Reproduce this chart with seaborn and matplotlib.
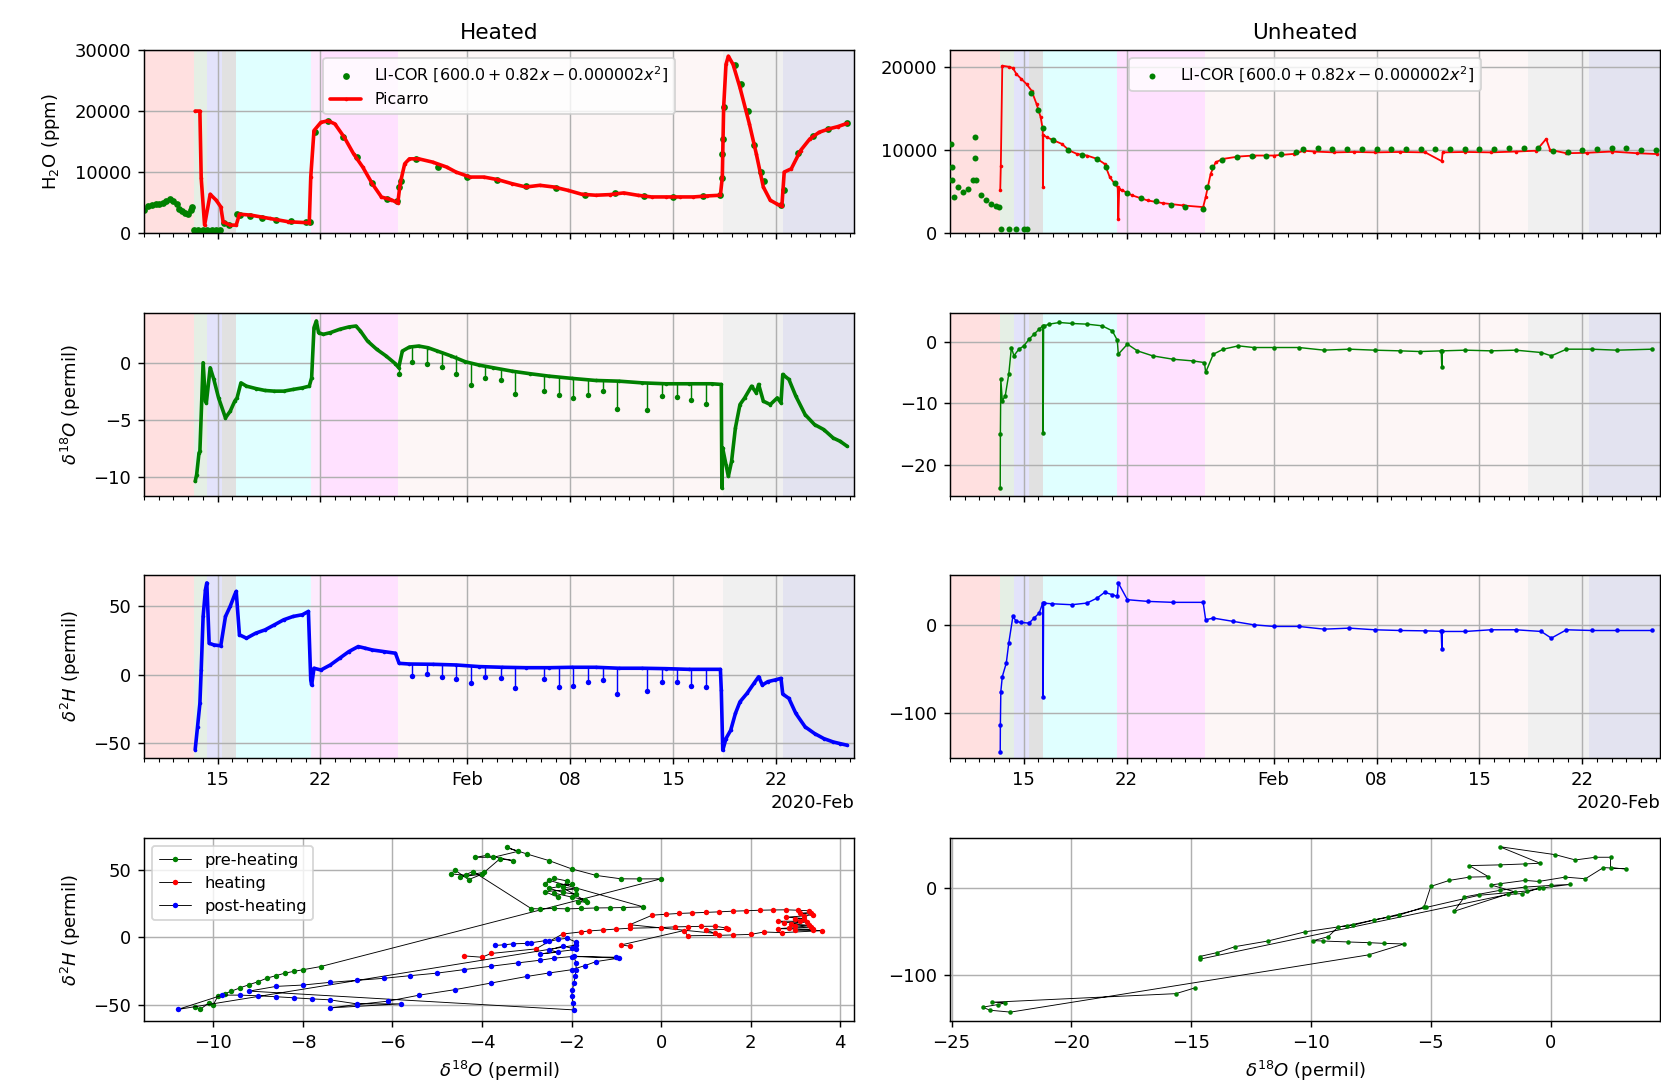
import numpy as np
import pandas as pd
import matplotlib
matplotlib.use("Agg")
import matplotlib.pyplot as plt
import matplotlib.dates as mdates
import seaborn as sns

T0 = pd.Timestamp("2020-01-10")
T_END = pd.Timestamp("2020-02-27 07:00")

# shaded periods, in days after T0
span_edges_heated = [0, 3.40, 4.26, 5.28, 6.26, 11.38, 12.0, 17.30, 39.41, 43.45, 48.4]
span_colors_heated = ["#ffe0e0", "#e5efe5", "#e3e3fb", "#e1e1e1", "#e0ffff",
                      "#fdebfd", "#ffe1ff", "#fdf6f6", "#f0f0f0", "#e3e3f0"]
span_edges_unheated = [0, 3.41, 4.34, 5.37, 6.33, 11.37, 17.31, 39.28, 43.47, 48.4]
span_colors_unheated = ["#ffe0e0", "#e5efe5", "#e3e3fb", "#e1e1e1", "#e0ffff",
                        "#ffe1ff", "#fdf6f6", "#f0f0f0", "#e3e3f0"]

# ---- heated: H2O (ppm)
h2o_h_licor_day = [0.0, 0.25, 0.51, 0.79, 1.01, 1.27, 1.52, 1.74, 1.96, 2.22, 2.41, 2.60, 2.79, 3.01, 3.20, 3.29,
                   3.42, 3.70, 4.00, 4.30, 4.60, 4.90, 5.20,
                   5.45, 5.80, 6.30, 6.50, 7.20, 8.00, 9.00, 10.00, 11.00, 11.30,
                   11.60, 12.50, 13.50, 14.50, 15.50, 16.50, 17.20, 17.36, 17.45, 18.50, 20.00, 22.00, 24.00,
                   26.00, 28.00, 30.00, 32.00, 34.00, 36.00, 38.00, 39.20,
                   39.31, 39.34, 39.37, 39.42, 40.20, 40.60, 41.05, 41.50, 41.95, 42.15, 43.30, 43.50, 44.50,
                   45.50, 46.50, 47.80]
h2o_h_licor_ppm = [3750, 4400, 4600, 4800, 4700, 5000, 5300, 5600, 5300, 4800, 4000, 3600, 3300, 3200, 3700, 4300,
                   480, 520, 480, 520, 480, 520, 480,
                   1600, 1300, 3050, 2950, 2800, 2450, 2150, 1900, 1750, 1750,
                   16600, 18300, 15800, 12500, 8200, 5600, 5300, 7500, 8600, 12100, 10900, 9200, 8700,
                   7700, 7400, 6300, 6500, 6000, 5900, 6100, 6200,
                   9000, 13000, 15500, 20600, 27600, 24500, 20000, 14500, 10000, 8600, 4600, 7000, 13200,
                   15900, 17100, 18000]
h2o_h_pic_day = [3.48, 3.80, 3.89, 4.12, 4.50, 4.91, 5.22, 5.38, 5.86, 6.27,
                 6.49, 7.28, 8.55, 9.82, 11.24, 11.34, 11.56, 12.03, 12.51, 12.98,
                 13.62, 14.25, 14.88, 15.52, 16.15, 16.78, 17.26, 17.42, 17.73, 18.05,
                 18.68, 19.63, 20.58, 21.22, 22.17, 23.12, 24.07, 25.02, 25.97, 26.92,
                 27.87, 28.82, 29.77, 30.72, 31.67, 32.62, 33.57, 34.52, 35.47, 36.42,
                 37.37, 38.32, 39.20, 39.33, 39.42, 39.58, 39.74, 40.06, 40.53, 41.17,
                 41.64, 42.12, 42.59, 43.07, 43.38, 43.54, 44.02, 44.65, 45.28, 45.91,
                 46.55, 47.18, 47.82]
h2o_h_pic_ppm = [20000, 20000, 9000, 1300, 6360, 5380, 4300, 1850, 1300, 1300,
                 3100, 2930, 2390, 1850, 1680, 9180, 16800, 18150, 18400, 17900,
                 15700, 13000, 10800, 8100, 5900, 5490, 4950, 8100, 11360, 12170,
                 12170, 11630, 10820, 10000, 9180, 9180, 8750, 8100, 7550, 7830,
                 7550, 7010, 6360, 6200, 6300, 6580, 6200, 5920, 5920, 5920,
                 5920, 6090, 6200, 9180, 20600, 27660, 29000, 27660, 23860, 17900,
                 13000, 7550, 5380, 4730, 4400, 10000, 10540, 13530, 15430, 16520,
                 17060, 17450, 17990]

# ---- heated: d18O and d2H (permil)
d18o_h_day = [3.48, 3.58, 3.74, 3.80, 4.02, 4.18, 4.24, 4.50, 4.75, 5.07,
              5.54, 5.86, 6.17, 6.33, 6.59, 6.97, 7.60, 8.23, 8.87, 9.50,
              10.13, 10.77, 11.24, 11.40, 11.56, 11.72, 11.87, 12.19, 12.67, 13.30,
              13.93, 14.41, 14.72, 15.20, 15.83, 16.47, 17.10, 17.32, 17.57, 18.05,
              18.68, 19.32, 19.95, 20.90, 21.85, 22.80, 23.75, 25.02, 26.28, 27.55,
              29.13, 30.72, 32.30, 33.88, 35.47, 37.05, 38.63, 39.26, 39.30, 39.35,
              39.58, 39.74, 39.96, 40.22, 40.53, 40.85, 41.32, 41.64, 41.80, 42.12,
              42.59, 43.07, 43.32, 43.44, 43.86, 44.33, 44.96, 45.60, 46.23, 46.87,
              47.34, 47.82]
d18o_h_val = [-10.41, -9.82, -7.91, -7.76, 0.03, -3.35, -3.5, -0.41, -1.44, -3.06,
              -4.82, -4.24, -3.35, -3.06, -1.74, -2.03, -2.24, -2.41, -2.47, -2.47,
              -2.32, -2.18, -2.03, -1.29, 3.12, 3.71, 2.68, 2.53, 2.68, 2.97,
              3.18, 3.26, 2.82, 1.94, 1.21, 0.62, -0.06, -0.41, 1.06, 1.41,
              1.50, 1.35, 1.06, 0.62, 0.12, -0.18, -0.41, -0.71, -0.94, -1.15,
              -1.35, -1.53, -1.59, -1.74, -1.82, -1.82, -1.82, -1.88, -11.0, -7.47,
              -8.94, -9.97, -8.65, -5.71, -3.65, -3.06, -2.03, -2.62, -1.88, -3.35,
              -3.65, -3.06, -3.50, -1.00, -1.44, -2.91, -4.53, -5.41, -5.85, -6.59,
              -6.88, -7.32]
d18o_h_spike_day = [17.35, 18.21, 19.25, 20.27, 21.22, 22.26, 23.21, 24.26, 25.24, 27.23,
                    28.21, 29.20, 30.21, 31.19, 32.20, 34.20, 35.24, 36.26, 37.21, 38.25]
d18o_h_spike_base = [-0.4, 1.4, 1.45, 1.1, 0.75, 0.1, -0.35, -0.5, -0.7, -1.1,
                     -1.25, -1.35, -1.45, -1.55, -1.6, -1.75, -1.8, -1.8, -1.82, -1.82]
d18o_h_spike_tip = [-0.94, 0.12, -0.12, -0.35, -0.94, -1.94, -1.35, -1.53, -2.76, -2.47,
                    -2.85, -3.06, -2.85, -2.47, -4.03, -4.09, -2.91, -3.0, -3.29, -3.59]

d2h_h_day = [3.48, 3.64, 3.80, 3.89, 4.02, 4.18, 4.27, 4.43, 4.75, 5.22,
             5.54, 5.86, 6.17, 6.27, 6.49, 6.97, 7.60, 8.23, 8.87, 9.50,
             10.13, 10.77, 11.18, 11.34, 11.40, 11.56, 12.03, 12.67, 13.30, 13.93,
             14.57, 15.04, 15.52, 16.31, 17.10, 17.35, 18.05, 19.63, 21.22, 22.80,
             24.38, 25.97, 27.55, 29.13, 30.72, 32.30, 33.88, 35.47, 37.05, 39.20,
             39.26, 39.36, 39.58, 39.90, 40.22, 40.53, 41.01, 41.48, 41.80, 42.05,
             42.43, 42.91, 43.32, 43.44, 43.86, 44.33, 44.96, 45.60, 46.23, 46.87,
             47.34, 47.82]
d2h_h_val = [-54.9, -38.2, -21.1, 3.4, 42.6, 62.3, 67.2, 23.0, 21.8, 21.1,
             42.6, 50.0, 58.6, 61.0, 29.2, 26.7, 30.4, 32.8, 36.5, 40.2,
             42.6, 43.9, 46.3, -3.9, -7.6, 4.7, 3.4, 7.1, 12.0, 16.9,
             20.6, 19.4, 18.1, 16.9, 15.7, 8.3, 7.8, 7.6, 7.1, 5.9,
             5.4, 5.1, 5.1, 5.4, 5.4, 4.7, 4.7, 4.4, 3.9, 3.9,
             -11.3, -55.4, -46.8, -40.7, -28.4, -19.9, -13.7, -6.4, -1.5, -7.6,
             -5.1, -3.9, -2.7, -14.2, -17.4, -28.4, -38.2, -43.1, -46.8, -49.3,
             -50.5, -51.7]
d2h_h_spike_day = [18.21, 19.25, 20.27, 21.22, 22.26, 23.21, 24.26, 25.24, 27.23, 28.21,
                   29.20, 30.21, 31.19, 32.20, 34.20, 35.24, 36.26, 37.21, 38.25]
d2h_h_spike_base = [7.8, 7.6, 7.3, 7.1, 6.5, 5.9, 5.4, 5.2, 5.1, 5.2,
                    5.4, 5.4, 5.2, 4.7, 4.7, 4.4, 4.2, 3.9, 3.9]
d2h_h_spike_tip = [-1.0, 0.5, -2.0, -3.4, -5.9, -2.0, -2.5, -10.0, -3.4, -8.8,
                   -8.3, -5.1, -3.9, -14.5, -12.0, -5.4, -5.1, -8.3, -8.8]

# ---- unheated: H2O (ppm)
h2o_u_licor_day = [0.05, 0.10, 0.15, 0.25, 0.56, 0.91, 1.25, 1.59, 1.66, 1.70, 1.76, 2.11, 2.45, 2.79, 3.14, 3.30,
                   3.48, 3.99, 4.51, 5.02, 5.26,
                   5.50, 6.00, 6.30, 7.00, 8.00, 9.00, 10.00, 10.60, 11.20, 12.00,
                   13.00, 14.00, 15.00, 16.00,
                   17.20, 17.50, 17.80, 18.50, 19.50, 20.50, 21.50, 22.50, 23.50, 24.00,
                   25.0, 26.0, 27.0, 28.0, 29.0, 30.0, 31.0, 32.0, 33.0, 34.0,
                   35.0, 36.0, 37.0, 38.0, 39.0, 40.0, 41.0, 42.0, 43.0, 44.0,
                   45.0, 46.0, 47.0, 48.0]
h2o_u_licor_ppm = [10720, 8000, 6320, 4320, 5520, 4920, 5320, 6320, 11520, 9000, 6320, 4520, 3920, 3520, 3200, 3100,
                   520, 520, 520, 520, 520,
                   16800, 14800, 12600, 11200, 10000, 9400, 8900, 8000, 6000, 4800,
                   4200, 3800, 3400, 3100,
                   2900, 5500, 8000, 8800, 9200, 9300, 9300, 9500, 9800, 10100,
                   10200, 10050, 10100, 10050, 10100, 10150, 10100, 10050, 10100, 10050,
                   10100, 10050, 10100, 10200, 10250, 10250, 9900, 9800, 10000, 10150,
                   10250, 10200, 10000, 9950]
h2o_u_pic_day = [3.41, 3.45, 3.55, 3.99, 4.27, 4.51, 4.85, 5.20, 5.54, 5.88,
                 6.16, 6.30, 6.32, 6.34, 6.57, 7.08, 7.60, 8.11, 8.63, 9.31,
                 10.00, 10.51, 10.86, 11.20, 11.40, 11.44, 11.50, 11.72, 12.40, 13.43,
                 14.46, 15.83, 17.21, 17.38, 17.72, 18.06, 18.58, 19.61, 20.64, 22.01,
                 23.38, 24.07, 24.76, 26.13, 27.50, 28.88, 30.59, 32.31, 33.44, 33.50,
                 35.05, 36.77, 38.48, 39.86, 40.54, 40.80, 41.92, 43.29, 45.00, 46.72,
                 48.09]
h2o_u_pic_ppm = [5120, 8120, 20120, 20000, 19840, 19120, 18520, 17920, 17120, 15520,
                 13920, 12520, 5520, 11800, 11520, 11120, 10720, 9920, 9520, 9320,
                 8920, 8320, 6720, 5920, 5520, 1640, 5300, 5120, 4520, 3920,
                 3600, 3320, 3120, 4320, 7120, 8520, 8920, 9200, 9320, 9320,
                 9520, 9900, 9800, 9700, 9750, 9700, 9750, 9700, 8640, 9700,
                 9750, 9700, 9800, 9900, 11320, 10000, 9600, 9650, 9800, 9600,
                 9500]

# ---- unheated: d18O and d2H (permil)
d18o_u_day = [3.41, 3.42, 3.45, 3.55, 3.75, 3.99, 4.17, 4.34, 4.68, 5.02,
              5.37, 5.71, 6.06, 6.30, 6.33, 6.36, 6.74, 7.43, 8.28, 9.31,
              10.34, 11.03, 11.37, 11.44, 12.06, 12.74, 13.78, 15.15, 16.52, 17.30,
              17.38, 17.90, 18.58, 19.61, 20.64, 22.01, 23.73, 25.44, 27.16, 28.88,
              30.59, 31.96, 33.40, 33.44, 33.48, 35.05, 36.77, 38.48, 40.20, 40.89,
              41.92, 43.63, 45.35, 47.75]
d18o_u_val = [-23.7, -15.0, -6.1, -9.6, -8.8, -5.3, -0.97, -2.3, -1.24, -0.7,
              0.38, 1.19, 2.0, 2.54, -14.8, 2.5, 2.81, 3.08, 2.92, 2.81,
              2.54, 1.73, 0.22, -2.05, -0.43, -1.51, -2.32, -2.86, -3.14, -3.41,
              -5.0, -2.05, -1.24, -0.7, -0.97, -0.97, -0.97, -1.4, -1.24, -1.4,
              -1.51, -1.62, -1.51, -4.05, -1.51, -1.4, -1.51, -1.4, -1.78, -2.32,
              -1.24, -1.24, -1.4, -1.24]
d2h_u_day = [3.41, 3.42, 3.45, 3.55, 3.82, 3.99, 4.27, 4.51, 4.85, 5.37,
             5.71, 6.06, 6.30, 6.33, 6.36, 6.91, 8.28, 9.31, 10.00, 10.51,
             11.03, 11.37, 11.44, 12.06, 13.43, 15.15, 17.21, 17.38, 17.90, 19.27,
             20.64, 22.01, 23.73, 25.44, 27.16, 28.88, 30.59, 32.31, 33.40, 33.44,
             33.48, 35.05, 36.77, 38.48, 40.20, 40.89, 41.92, 43.63, 45.35, 47.75]
d2h_u_val = [-144, -113.7, -75.7, -58.6, -43.3, -20.5, 9.9, 4.2, 3.0, 2.3,
             8.0, 13.7, 25.1, -81.4, 25.0, 24.3, 23.2, 25.1, 30.8, 37.3,
             34.6, 32.7, 47.9, 28.9, 27.0, 25.9, 25.9, 6.1, 8.0, 4.2,
             0.4, -1.5, -1.5, -4.6, -3.4, -5.3, -6.1, -6.5, -7.0, -26.6,
             -7.2, -7.2, -5.3, -5.3, -7.2, -14.8, -5.3, -6.1, -6.1, -6.1]

# ---- d18O vs d2H, heated, by period (in path order)
pre_d18o = [-10.4, -10.3, -10.1, -10.0, -9.9, -9.75, -9.6, -9.4, -9.2, -9.0,
            -8.8, -8.6, -8.4, -8.2, -8.0, -7.6,
            0.0, -0.5, -0.9, -1.45, -2.0, -2.5, -3.0, -3.45, -3.2, -3.75,
            -4.15, -3.9, -3.3, -3.6,
            -3.95, -4.35, -4.7, -4.6, -4.3, -4.0, -4.5, -4.2,
            -2.9, -2.7, -2.4, -2.1, -1.8, -1.45, -1.15, -0.85, -0.4,
            -2.5, -2.6, -2.4, -2.1, -2.2, -1.9, -2.6, -2.3, -2.4, -2.0,
            -1.7, -1.85, -1.65, -2.3, -2.0, -2.5, -2.2, -1.9]
pre_d2h = [-52.0, -53.7, -48.8, -50.0, -43.8, -42.0, -40.1, -37.5, -35.2, -33.0,
           -30.3, -28.5, -26.6, -25.3, -24.1, -21.7,
           43.6, 43.5, 43.6, 46.1, 51.0, 57.1, 62.1, 67.0, 64.0, 59.6,
           59.6, 61.0, 57.1, 58.5,
           48.5, 46.1, 47.3, 50.0, 43.0, 47.0, 45.0, 49.0,
           21.4, 21.2, 21.5, 21.2, 21.5, 21.9, 22.0, 22.2, 22.7,
           42.4, 40.0, 44.0, 42.0, 37.4, 36.0, 34.0, 30.0, 33.0, 30.0,
           28.0, 26.4, 26.4, 39.0, 39.5, 36.5, 33.5, 32.0]
heat_d18o = [-4.4, -4.0, -3.8, -2.8,
             -2.2, -1.8, -1.6, -1.3, -1.0, -0.7, 0.0, 0.3, 0.6, 0.9, 1.2, 1.45, 1.5, 1.0, 1.2, -0.7,
             -0.2, 0.1, 0.4, 0.7, 1.0, 1.3, 1.6, 1.9, 2.2, 2.5,
             2.8, 3.05, 3.3, 3.35, 3.1, 3.4, 3.2, 2.8, 3.2, 3.0,
             3.1, 2.6, 2.75, 3.25, 2.9, 3.3, 3.0, 3.35, 2.85, 2.6,
             3.4, 3.0, 3.4, 3.6, 2.7, 2.3, 2.0, 1.6, 1.3, 0.6,
             0.5, -0.9, -0.7]
heat_d2h = [-13.8, -14.8, -12.0, -8.6,
            2.5, 4.0, 4.8, 5.5, 6.2, 6.8, 7.3, 7.8, 8.0, 8.2, 8.3, 7.0, 6.0, 5.5, 3.0, 9.4,
            16.5, 17.2, 17.8, 18.2, 18.6, 19.0, 19.5, 19.8, 20.2, 20.4,
            20.5, 20.2, 19.8, 18.5, 18.0, 17.0, 16.0, 15.0, 14.0, 13.5,
            12.0, 12.0, 11.0, 11.5, 10.0, 9.0, 8.5, 7.5, 7.0, 6.5,
            6.0, 5.3, 5.2, 5.0, 3.5, 4.0, 2.2, 1.8, 1.5, 1.2,
            5.0, -5.7, -6.5]
post_d18o = [-3.7, -3.5, -3.3, -3.0, -2.9, -2.6, -2.5, -2.3, -2.1, -1.9,
             -2.0, -2.2, -2.5, -2.3, -2.7, -1.9, -1.9,
             -10.8,
             -9.8, -9.4, -9.0, -8.6, -8.2, -7.8, -7.4, -6.8, -5.8,
             -7.4, -6.8, -6.1, -5.4, -4.6, -3.8, -3.0, -2.5, -2.0, -1.7, -1.45, -0.95,
             -1.95, -1.9, -1.9, -1.92, -1.95, -1.98, -2.0, -1.96, -1.95,
             -9.2, -8.6, -8.0, -7.4, -6.8, -6.2, -5.6, -5.0, -4.4, -3.8,
             -3.2, -2.7, -2.4, -2.0, -1.0]
post_d2h = [-6.0, -5.5, -4.8, -4.5, -4.0, -2.5, -3.0, -1.5, -0.7, -3.5,
            -8.0, -6.5, -9.4, -11.0, -12.3, -9.0, -5.7,
            -53.7,
            -43.0, -43.0, -43.5, -44.2, -45.0, -45.8, -46.5, -49.5, -49.5,
            -52.5, -50.0, -47.5, -43.0, -38.9, -34.0, -29.1, -26.5, -24.1, -21.0, -18.0, -15.5,
            -14.0, -19.0, -24.0, -29.0, -34.0, -39.0, -44.0, -49.0, -54.0,
            -40.0, -36.5, -35.5, -33.5, -32.0, -30.5, -28.5, -26.6, -24.0, -21.5,
            -19.0, -17.0, -15.5, -14.3, -14.8]

# ---- d18O vs d2H, unheated
unh_d18o = [-14.86, -15.64, -23.3, -22.75, -23.07, -23.7, -23.4, -22.54, -7.6, -6.12,
            -6.97, -7.6, -8.44, -9.49, -9.91, -9.28, -8.86, -8.23, -7.39, -6.33,
            -5.28, -5.0, -4.23, -3.39, -2.6, -3.39, -2.13, -1.07, -0.44, -2.13,
            0.19, 1.03, 1.87, 2.5, 2.5, 3.14, 2.2, 1.45, 0.61, -0.5,
            -1.07, -2.13, -2.5, -1.5, -4.02, -3.6, -2.13, -1.07, 0.0, 0.82,
            -0.5, -1.2, -1.8, -14.65, -14.65, -13.91, -13.17, -11.8, -10.23, -8.5,
            -6.8, -5.2, -3.0, -1.0, -0.3]
unh_d2h = [-114.9, -121.4, -131.3, -132.1, -134.0, -137.0, -140.5, -142.7, -76.7, -64.1,
           -63.4, -62.6, -61.8, -60.7, -60.3, -55.7, -44.3, -42.4, -36.6, -30.9,
           -21.4, 2.3, 9.2, 13.0, 13.5, 26.3, 27.1, 28.2, 29.0, 48.1,
           38.9, 32.8, 35.9, 35.9, 23.7, 22.5, 24.0, 11.1, 13.0, 8.0,
           9.2, 5.3, 4.0, -4.0, -26.3, -9.9, -2.3, 1.5, 3.4, 4.6,
           0.0, -6.0, -7.0, -81.7, -78.6, -74.0, -67.2, -60.7, -50.0, -43.0,
           -33.0, -22.0, -8.0, -3.0, 1.0]


def to_time(days):
    return T0 + pd.to_timedelta(np.asarray(days, dtype=float), unit="D")


def shade(ax, edges, colors):
    t = to_time(edges)
    for a, b, c in zip(t[:-1], t[1:], colors):
        ax.axvspan(a, b, color=c, lw=0, zorder=0.2)


def trace(ax, days, vals, color, lw, ms=4, label=None, zorder=2):
    sns.lineplot(x=to_time(days), y=vals, ax=ax, sort=False, estimator=None,
                 color=color, lw=lw, marker=".", ms=ms, mec=color, mfc=color,
                 mew=0, label=label, zorder=zorder)


def spikes(ax, days, base, tip, color):
    t = to_time(days)
    ax.vlines(t, tip, base, color=color, lw=0.8, zorder=2)
    sns.scatterplot(x=t, y=tip, ax=ax, color=color, s=9, linewidth=0, zorder=2)


def time_axis(ax, labels):
    ax.set_xlim(T0, T_END)
    loc = mdates.DayLocator(bymonthday=[1, 8, 15, 22])
    ax.xaxis.set_major_locator(loc)
    ax.xaxis.set_major_formatter(mdates.ConciseDateFormatter(loc))
    ax.xaxis.set_minor_locator(mdates.DayLocator())
    if not labels:
        ax.tick_params(labelbottom=False)
        ax.xaxis.get_offset_text().set_visible(False)


sns.set_style("ticks")
plt.rcParams.update({
    "font.family": ["DejaVu Sans"],
    "axes.edgecolor": "black", "axes.labelcolor": "black", "text.color": "black",
    "xtick.color": "black", "ytick.color": "black",
    "axes.linewidth": 0.8, "font.size": 10,
    "xtick.labelsize": 10, "ytick.labelsize": 10,
})

fig = plt.figure(figsize=(1661 / 130, 1089 / 130), dpi=130)
col_x = [0.0867, 0.5720]
row_y = [0.786, 0.5445, 0.304, 0.0624]
W, H = 0.4275, 0.168
axes = [[fig.add_axes([cx, ry, W, H]) for cx in col_x] for ry in row_y]

for r in range(3):
    shade(axes[r][0], span_edges_heated, span_colors_heated)
    shade(axes[r][1], span_edges_unheated, span_colors_unheated)

licor_label = "LI-COR [$600.0 + 0.82x - 0.000002x^2$]"

# row 1: water vapour
ax = axes[0][0]
sns.scatterplot(x=to_time(h2o_h_licor_day), y=h2o_h_licor_ppm, ax=ax, color="green",
                s=14, linewidth=0, label=licor_label, zorder=2)
trace(ax, h2o_h_pic_day, h2o_h_pic_ppm, "red", 2.0, label="Picarro", zorder=3)
ax.set_ylim(0, 30000)
ax.set_yticks([0, 10000, 20000, 30000])
ax.set_ylabel("H$_2$O (ppm)", labelpad=7)
ax.legend(loc="upper center", fontsize=8.8)
ax.set_title("Heated", fontsize=12)

ax = axes[0][1]
trace(ax, h2o_u_pic_day, h2o_u_pic_ppm, "red", 1.0, zorder=2)
sns.scatterplot(x=to_time(h2o_u_licor_day), y=h2o_u_licor_ppm, ax=ax, color="green",
                s=11, linewidth=0, label=licor_label, zorder=3)
ax.set_ylim(0, 22000)
ax.set_yticks([0, 10000, 20000])
ax.legend(loc="upper center", fontsize=8.8)
ax.set_title("Unheated", fontsize=12)

# row 2: d18O
ax = axes[1][0]
trace(ax, d18o_h_day, d18o_h_val, "green", 2.0)
spikes(ax, d18o_h_spike_day, d18o_h_spike_base, d18o_h_spike_tip, "green")
ax.set_ylim(-11.7, 4.4)
ax.set_yticks([-10, -5, 0])
ax.set_ylabel(r"$\delta^{18}O$ (permil)", labelpad=6)

ax = axes[1][1]
trace(ax, d18o_u_day, d18o_u_val, "green", 0.8, ms=5)
ax.set_ylim(-25, 4.6)
ax.set_yticks([-20, -10, 0])

# row 3: d2H
ax = axes[2][0]
trace(ax, d2h_h_day, d2h_h_val, "blue", 2.0)
spikes(ax, d2h_h_spike_day, d2h_h_spike_base, d2h_h_spike_tip, "blue")
ax.set_ylim(-61, 73)
ax.set_yticks([-50, 0, 50])
ax.set_ylabel(r"$\delta^2H$ (permil)", labelpad=6)

ax = axes[2][1]
trace(ax, d2h_u_day, d2h_u_val, "blue", 0.8, ms=5)
ax.set_ylim(-151, 57)
ax.set_yticks([-100, 0])

for r in range(3):
    for c in range(2):
        a = axes[r][c]
        time_axis(a, labels=(r == 2))
        if c == 1:
            a.set_ylabel("")
        a.set_xlabel("")

# row 4: dual isotope plots
ax = axes[3][0]
for xs, ys, col, lab in [(pre_d18o, pre_d2h, "green", "pre-heating"),
                         (heat_d18o, heat_d2h, "red", "heating"),
                         (post_d18o, post_d2h, "blue", "post-heating")]:
    sns.lineplot(x=xs, y=ys, ax=ax, sort=False, estimator=None, color="black", lw=0.5,
                 marker=".", ms=6, mfc=col, mec=col, mew=0, label=lab)
ax.set_xlim(-11.55, 4.31)
ax.set_ylim(-62.3, 73.9)
ax.set_xticks(np.arange(-10, 5, 2))
ax.set_yticks([-50, 0, 50])
ax.set_xlabel(r"$\delta^{18}O$ (permil)")
ax.set_ylabel(r"$\delta^2H$ (permil)", labelpad=6)
ax.legend(loc="upper left", fontsize=9)

ax = axes[3][1]
sns.lineplot(x=unh_d18o, y=unh_d2h, ax=ax, sort=False, estimator=None, color="black", lw=0.5,
             marker=".", ms=5, mfc="green", mec="green", mew=0)
ax.set_xlim(-25.06, 4.57)
ax.set_ylim(-153, 58)
ax.set_xticks([-25, -20, -15, -10, -5, 0])
ax.set_yticks([-100, 0])
ax.set_xlabel(r"$\delta^{18}O$ (permil)")
ax.set_ylabel("")

for row in axes:
    for a in row:
        a.set_axisbelow(True)
        a.grid(True, which="major", color="#b0b0b0", lw=0.8)
        for s in a.spines.values():
            s.set_visible(True)
            s.set_color("black")

fig.savefig("out.png", dpi=130)
